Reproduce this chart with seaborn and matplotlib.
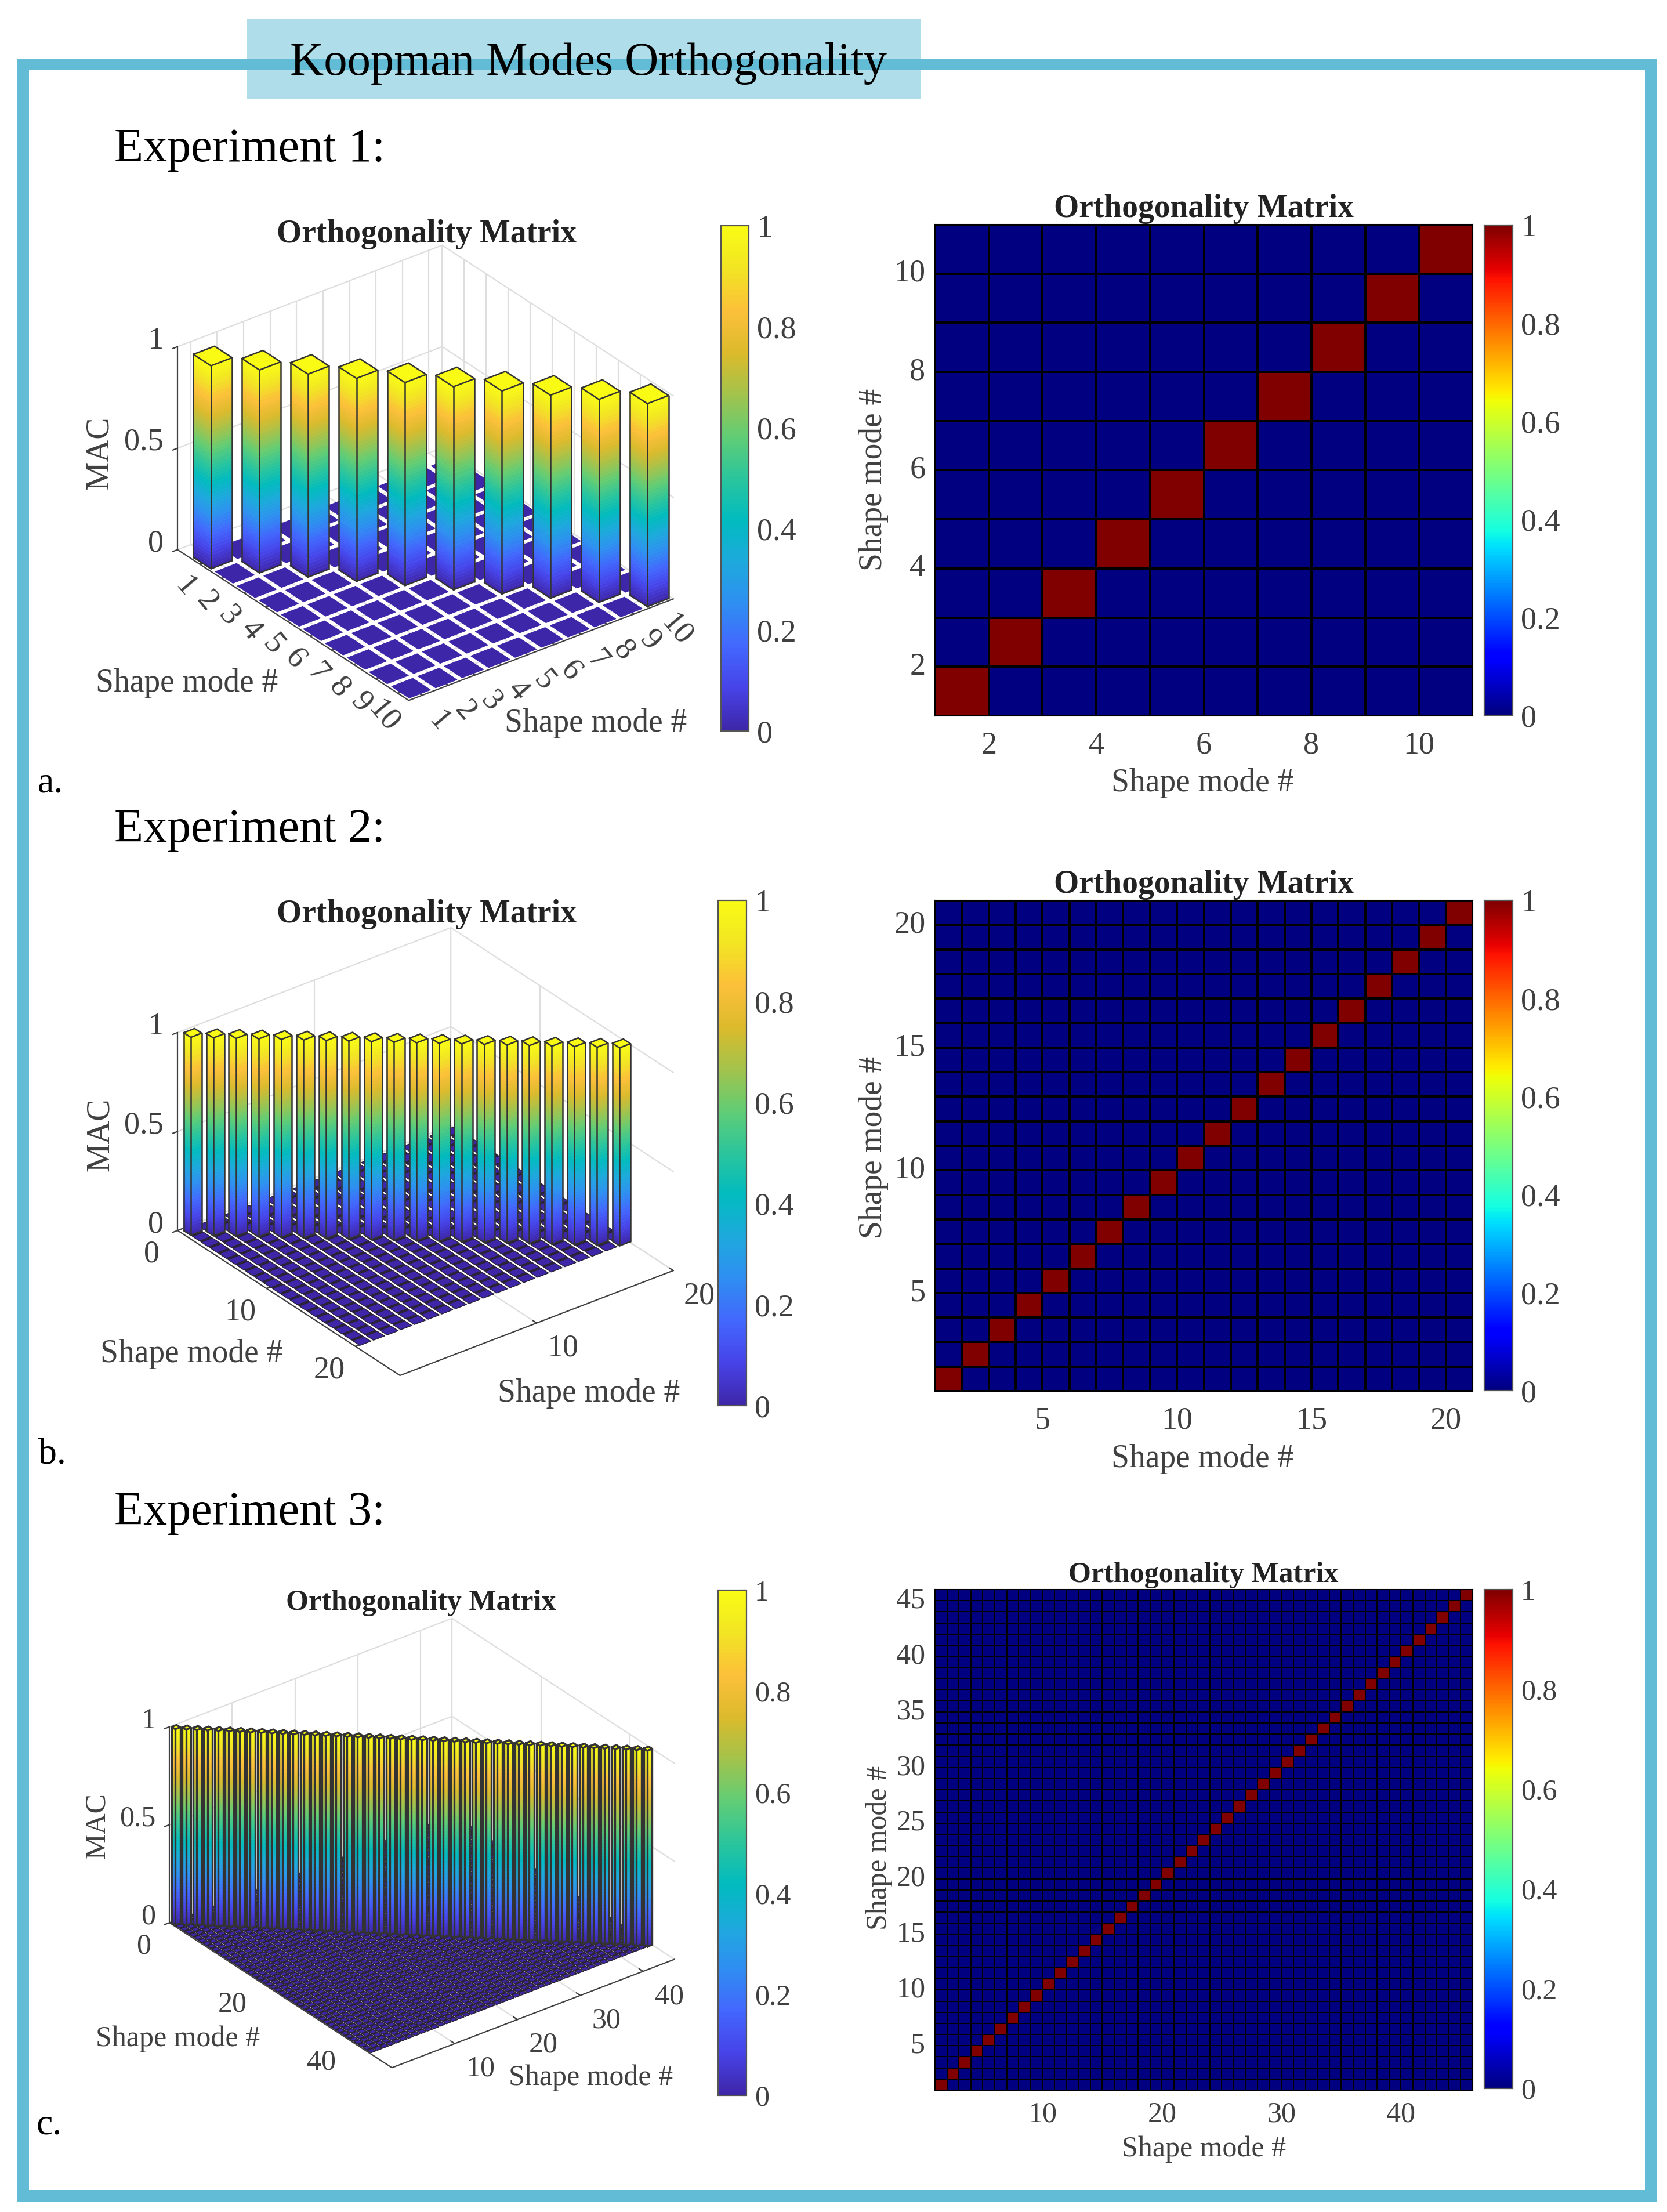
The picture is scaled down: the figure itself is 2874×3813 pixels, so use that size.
import numpy as np
import pandas as pd
import seaborn as sns
import matplotlib
matplotlib.use('Agg')
import matplotlib.pyplot as plt
from matplotlib.cm import ScalarMappable
from matplotlib.colors import LinearSegmentedColormap, Normalize
from matplotlib.patches import Rectangle
from mpl_toolkits.mplot3d import proj3d
from mpl_toolkits.mplot3d.art3d import Poly3DCollection

# values on the diagonal of each orthogonality matrix (everything else is 0)
exp1_diag = [1, 1, 1, 1, 1, 1, 1, 1, 1, 1]
exp2_diag = [1, 1, 1, 1, 1, 1, 1, 1, 1, 1, 1, 1, 1, 1, 1, 1, 1, 1, 1, 1]
exp3_diag = [1, 1, 1, 1, 1, 1, 1, 1, 1, 1, 1, 1, 1, 1, 1,
             1, 1, 1, 1, 1, 1, 1, 1, 1, 1, 1, 1, 1, 1, 1,
             1, 1, 1, 1, 1, 1, 1, 1, 1, 1, 1, 1, 1, 1, 1]

# tick labels
exp1_bar_xticks = [1, 2, 3, 4, 5, 6, 7, 8, 9, 10]
exp1_bar_yticks = [1, 2, 3, 4, 5, 6, 7, 8, 9, 10]
exp2_bar_xticks = [10, 20]
exp2_bar_yticks = [0, 10, 20]
exp3_bar_xticks = [10, 20, 30, 40]
exp3_bar_yticks = [0, 20, 40]
exp1_map_xticks = [2, 4, 6, 8, 10]
exp1_map_yticks = [2, 4, 6, 8, 10]
exp2_map_xticks = [5, 10, 15, 20]
exp2_map_yticks = [5, 10, 15, 20]
exp3_map_xticks = [10, 20, 30, 40]
exp3_map_yticks = [5, 10, 15, 20, 25, 30, 35, 40, 45]
z_ticks = [0, 0.5, 1]
z_labels = ['0', '0.5', '1']
cbar_ticks = [0, 0.2, 0.4, 0.6, 0.8, 1]
cbar_labels = ['0', '0.2', '0.4', '0.6', '0.8', '1']

parula_colors = ['#3e26a8', '#4743e8', '#4367fd', '#2f8ef2', '#1ea9dd', '#01bbbf', '#2bc59c',
                 '#61cd75', '#a3c34c', '#dcba2b', '#fcc03a', '#f2e523', '#f9fb15']
parula = LinearSegmentedColormap.from_list('parula', parula_colors)

TEXT = '#404040'
GRID = '#dedede'
DARK = '#2a2338'
W, H = 2874, 3813

sns.set_style('white')
plt.rcParams['font.family'] = ['Liberation Serif', 'DejaVu Serif']

fig = plt.figure(figsize=(W / 100, H / 100), dpi=100, facecolor='white')


def rect(x0, y0, x1, y1):
    return [x0 / W, 1 - y1 / H, (x1 - x0) / W, (y1 - y0) / H]


def put_text(x, y, s, **kw):
    kw.setdefault('ha', 'center')
    kw.setdefault('va', 'center')
    fig.text(x / W, 1 - (y + 3) / H, s, **kw)


def style_cbar(cax, cb, size):
    cb.set_ticks(cbar_ticks)
    cb.set_ticklabels(cbar_labels)
    cb.outline.set_visible(True)
    cb.outline.set_linewidth(1.6)
    cb.outline.set_edgecolor('#555555')
    cax.tick_params(direction='in', length=6, width=1.5, color=TEXT, right=True, left=False,
                    labelsize=size, labelcolor=TEXT, pad=10)


def bar_panel(diag, xticks, yticks, xlim, ylim, center, lengths, floor_edge, rotate=None,
              xoff=(45, -44), yoff=(-45, -41), size=39, cbar_box=None, offset=0.0,
              strips=False, edge_lw=1.8):
    side = 1400
    cx, cy = center
    left = cx - side * 0.95 / 1.85
    top = cy - side * 0.9 / 1.85
    ax = fig.add_axes(rect(left, top, left + side, top + side), projection='3d', computed_zorder=False)
    ax.set_proj_type('ortho')
    ax.view_init(elev=30, azim=-127.5)
    aspect = np.array(lengths, dtype=float)
    ax.set_box_aspect(aspect, zoom=1.85 / side * np.linalg.norm(aspect) / (1.8294640721620434 * 25 / 24))
    ax.set_xlim(xlim[0], xlim[1], view_margin=0)
    ax.set_ylim(ylim[1], ylim[0], view_margin=0)
    ax.set_zlim(0, 1, view_margin=0)
    ax.set_axis_off()
    ax.patch.set_alpha(0)

    x0, x1 = xlim
    y0, y1 = ylim

    # back walls and floor grid
    for t in xticks:
        ax.plot([t, t], [y0, y0], [0, 1], color=GRID, lw=1.6, zorder=0.2)
        ax.plot([t, t], [y0, y1], [0, 0], color=GRID, lw=1.6, zorder=0.2)
    for t in yticks:
        ax.plot([x1, x1], [t, t], [0, 1], color=GRID, lw=1.6, zorder=0.2)
        ax.plot([x0, x1], [t, t], [0, 0], color=GRID, lw=1.6, zorder=0.2)
    for z in z_ticks:
        ax.plot([x0, x1, x1], [y0, y0, y1], [z, z, z], color=GRID, lw=1.6, zorder=0.2)
    ax.plot([x1, x1], [y0, y0], [0, 1], color=GRID, lw=1.6, zorder=0.2)

    # axis lines and tick marks
    ax.plot([x0, x0], [y0, y0], [0, 1], color=TEXT, lw=1.6, zorder=0.4)
    ax.plot([x0, x0, x1], [y0, y1, y1], [0, 0, 0], color=TEXT, lw=1.6, zorder=0.4)
    xlen = (x1 - x0) * 0.018
    ylen = (y1 - y0) * 0.018
    for t in xticks:
        ax.plot([t, t], [y1, y1 - ylen], [0, 0], color=TEXT, lw=1.6, zorder=0.4)
    for t in yticks:
        ax.plot([x0, x0 + xlen], [t, t], [0, 0], color=TEXT, lw=1.6, zorder=0.4)
    for z in z_ticks:
        ax.plot([x0, x0 - xlen], [y0, y0], [z, z], color=TEXT, lw=1.6, zorder=0.4)

    matrix = np.diag(diag)
    n = len(diag)
    half = 0.4
    pos = np.arange(1, n + 1) + offset

    if strips:
        bands = [[(p - half, pos[0] - half, 0), (p + half, pos[0] - half, 0),
                  (p + half, pos[-1] + half, 0), (p - half, pos[-1] + half, 0)] for p in pos]
        band_poly = Poly3DCollection(bands, facecolors=DARK, edgecolors=DARK, linewidths=0.5)
        band_poly.set_zorder(0.8)
        ax.add_collection3d(band_poly, autolim=False)

    floor = []
    for i in range(n):
        for j in range(n):
            if matrix[j, i] == 0:
                a, b, c, d = pos[i] - half, pos[i] + half, pos[j] - half, pos[j] + half
                floor.append([(a, c, 0), (b, c, 0), (b, d, 0), (a, d, 0)])
    floor_poly = Poly3DCollection(floor, facecolors=parula(0.0), edgecolors=floor_edge[0], linewidths=floor_edge[1])
    floor_poly.set_zorder(1)
    ax.add_collection3d(floor_poly, autolim=False)

    # bars, left to right so the nearer ones cover the farther ones
    norm = Normalize(0, 1)
    for i in range(n):
        h = matrix[i, i]
        a, b, c, d = pos[i] - half, pos[i] + half, pos[i] - half, pos[i] + half
        levels = np.linspace(0, h, 61)
        polys = []
        cols = []
        for z0, z1 in zip(levels[:-1], levels[1:]):
            col = parula(norm((z0 + z1) / 2))
            polys.append([(a, c, z0), (a, d, z0), (a, d, z1), (a, c, z1)])
            polys.append([(a, d, z0), (b, d, z0), (b, d, z1), (a, d, z1)])
            cols += [col, col]
        polys.append([(a, c, h), (b, c, h), (b, d, h), (a, d, h)])
        cols.append(parula(norm(h)))
        order = 2 + i
        bar = Poly3DCollection(polys, facecolors=cols, edgecolors=cols, linewidths=0.4)
        bar.set_zorder(order)
        ax.add_collection3d(bar, autolim=False)
        edge = dict(color='#333333', lw=edge_lw, zorder=order + 0.5)
        ax.plot([a, b, b, a, a], [c, c, d, d, c], [h, h, h, h, h], **edge)
        ax.plot([a, a], [c, c], [0, h], **edge)
        ax.plot([a, a], [d, d], [0, h], **edge)
        ax.plot([b, b], [d, d], [0, h], **edge)
        ax.plot([a, a, b], [c, d, d], [0, 0, 0], **edge)

    # tick labels
    M = ax.get_proj()

    def tick_label(x, y, z, s, off, **kw):
        xs, ys, _ = proj3d.proj_transform(x, y, z, M)
        ax.annotate(s, (xs, ys), xytext=off, textcoords='offset pixels', ha=kw.pop('ha', 'center'),
                    va='center', fontsize=size, color=TEXT, annotation_clip=False, zorder=1000,
                    rotation_mode='anchor', **kw)

    rot = {} if rotate is None else {'rotation': rotate}
    for t in xticks:
        tick_label(t, y1, 0, str(t), xoff, **rot)
    for t in yticks:
        tick_label(x0, t, 0, str(t), yoff, **rot)
    for z, s in zip(z_ticks, z_labels):
        tick_label(x0, y0, z, s, (-24, 10), ha='right')

    cax = fig.add_axes(rect(*cbar_box))
    cb = fig.colorbar(ScalarMappable(norm=norm, cmap=parula), cax=cax)
    style_cbar(cax, cb, size)
    return ax


def map_panel(diag, xticks, yticks, box, cbar_box, lw, size, xpad=19):
    ax = fig.add_axes(rect(*box))
    cax = fig.add_axes(rect(*cbar_box))
    df = pd.DataFrame(np.diag(diag))
    sns.heatmap(df, ax=ax, cbar_ax=cax, cmap='jet', vmin=0, vmax=1, linewidths=lw, linecolor='black')
    ax.set_ylim(0, len(diag))
    ax.set_xticks([t - 1 for t in xticks])
    ax.set_xticklabels([str(t) for t in xticks], rotation=0)
    ax.set_yticks([t - 1 for t in yticks])
    ax.set_yticklabels([str(t) for t in yticks], rotation=0)
    ax.tick_params(axis='x', length=0, labelsize=size, labelcolor=TEXT, pad=xpad)
    ax.tick_params(axis='y', length=0, labelsize=size, labelcolor=TEXT, pad=12)
    for s in ax.spines.values():
        s.set_visible(True)
        s.set_color('black')
        s.set_linewidth(1.5)
    ax.set_xlabel('')
    ax.set_ylabel('')
    style_cbar(cax, ax.collections[0].colorbar, size)
    return ax


# frame and banner
fig.add_artist(Rectangle((426 / W, 1 - 170 / H), (1588 - 426) / W, 138 / H, transform=fig.transFigure,
                         facecolor='#afddea', edgecolor='none'))
fig.add_artist(Rectangle((40 / W, 1 - 3785 / H), (2846 - 40) / W, (3785 - 111) / H, transform=fig.transFigure,
                         facecolor='none', edgecolor='#62bcd5', linewidth=14.4))
put_text(1015, 107, 'Koopman Modes Orthogonality', fontsize=58, color='black')
put_text(197, 255, 'Experiment 1:', fontsize=59, color='black', ha='left')
put_text(197, 1428, 'Experiment 2:', fontsize=59, color='black', ha='left')
put_text(197, 2605, 'Experiment 3:', fontsize=59, color='black', ha='left')
put_text(87, 1347, 'a.', fontsize=46, color='black')
put_text(90, 2505, 'b.', fontsize=46, color='black')
put_text(85, 3660, 'c.', fontsize=46, color='black')

# Experiment 1
bar_panel(exp1_diag, exp1_bar_xticks, exp1_bar_yticks, (0.5, 10.5), (0, 10.5), (733.5, 815), (575, 655, 404),
          ('#3e26a8', 1.0), rotate=-50, xoff=(28, -45), yoff=(-25, -40), cbar_box=(1243, 389, 1291, 1260))
map_panel(exp1_diag, exp1_map_xticks, exp1_map_yticks, (1612, 387, 2539, 1234), (2559, 388, 2608, 1233), 1.6, 39)
put_text(735, 401, 'Orthogonality Matrix', fontsize=40, fontweight='bold', color='#222222')
put_text(2075, 357, 'Orthogonality Matrix', fontsize=40, fontweight='bold', color='#222222')
put_text(172, 778, 'MAC', fontsize=40, color=TEXT, rotation=90)
put_text(322, 1175, 'Shape mode #', fontsize=40, color=TEXT)
put_text(1027, 1244, 'Shape mode #', fontsize=40, color=TEXT)
put_text(2073, 1347, 'Shape mode #', fontsize=40, color=TEXT)
put_text(1506, 824, 'Shape mode #', fontsize=40, color=TEXT, rotation=90)

# Experiment 2
bar_panel(exp2_diag, exp2_bar_xticks, exp2_bar_yticks, (0, 20), (0, 25), (733.5, 1985), (594, 630, 394),
          (DARK, 1.0), cbar_box=(1238, 1552, 1287, 2423), offset=-0.33, strips=True)
map_panel(exp2_diag, exp2_map_xticks, exp2_map_yticks, (1612, 1552, 2539, 2398), (2559, 1552, 2608, 2397), 1.6, 39)
put_text(735, 1573, 'Orthogonality Matrix', fontsize=40, fontweight='bold', color='#222222')
put_text(2075, 1522, 'Orthogonality Matrix', fontsize=40, fontweight='bold', color='#222222')
put_text(173, 1953, 'MAC', fontsize=40, color=TEXT, rotation=90)
put_text(330, 2331, 'Shape mode #', fontsize=40, color=TEXT)
put_text(1015, 2399, 'Shape mode #', fontsize=40, color=TEXT)
put_text(2073, 2512, 'Shape mode #', fontsize=40, color=TEXT)
put_text(1506, 1975, 'Shape mode #', fontsize=40, color=TEXT, rotation=90)

# Experiment 3
bar_panel(exp3_diag, exp3_bar_xticks, exp3_bar_yticks, (0, 45), (0, 50), (727.5, 3177), (614, 630, 390),
          (DARK, 1.2), size=36, cbar_box=(1238, 2741, 1287, 3612), offset=-0.4, strips=True, edge_lw=2.4)
map_panel(exp3_diag, exp3_map_xticks, exp3_map_yticks, (1612, 2740, 2539, 3603), (2559, 2740, 2608, 3600), 1.4, 36, xpad=14)
put_text(726, 2760, 'Orthogonality Matrix', fontsize=36, fontweight='bold', color='#222222')
put_text(2075, 2712, 'Orthogonality Matrix', fontsize=36, fontweight='bold', color='#222222')
put_text(168, 3144, 'MAC', fontsize=36, color=TEXT, rotation=90)
put_text(307, 3512, 'Shape mode #', fontsize=36, color=TEXT)
put_text(1019, 3579, 'Shape mode #', fontsize=36, color=TEXT)
put_text(2076, 3702, 'Shape mode #', fontsize=36, color=TEXT)
put_text(1516, 3182, 'Shape mode #', fontsize=36, color=TEXT, rotation=90)

fig.savefig('out.png', dpi=100)
